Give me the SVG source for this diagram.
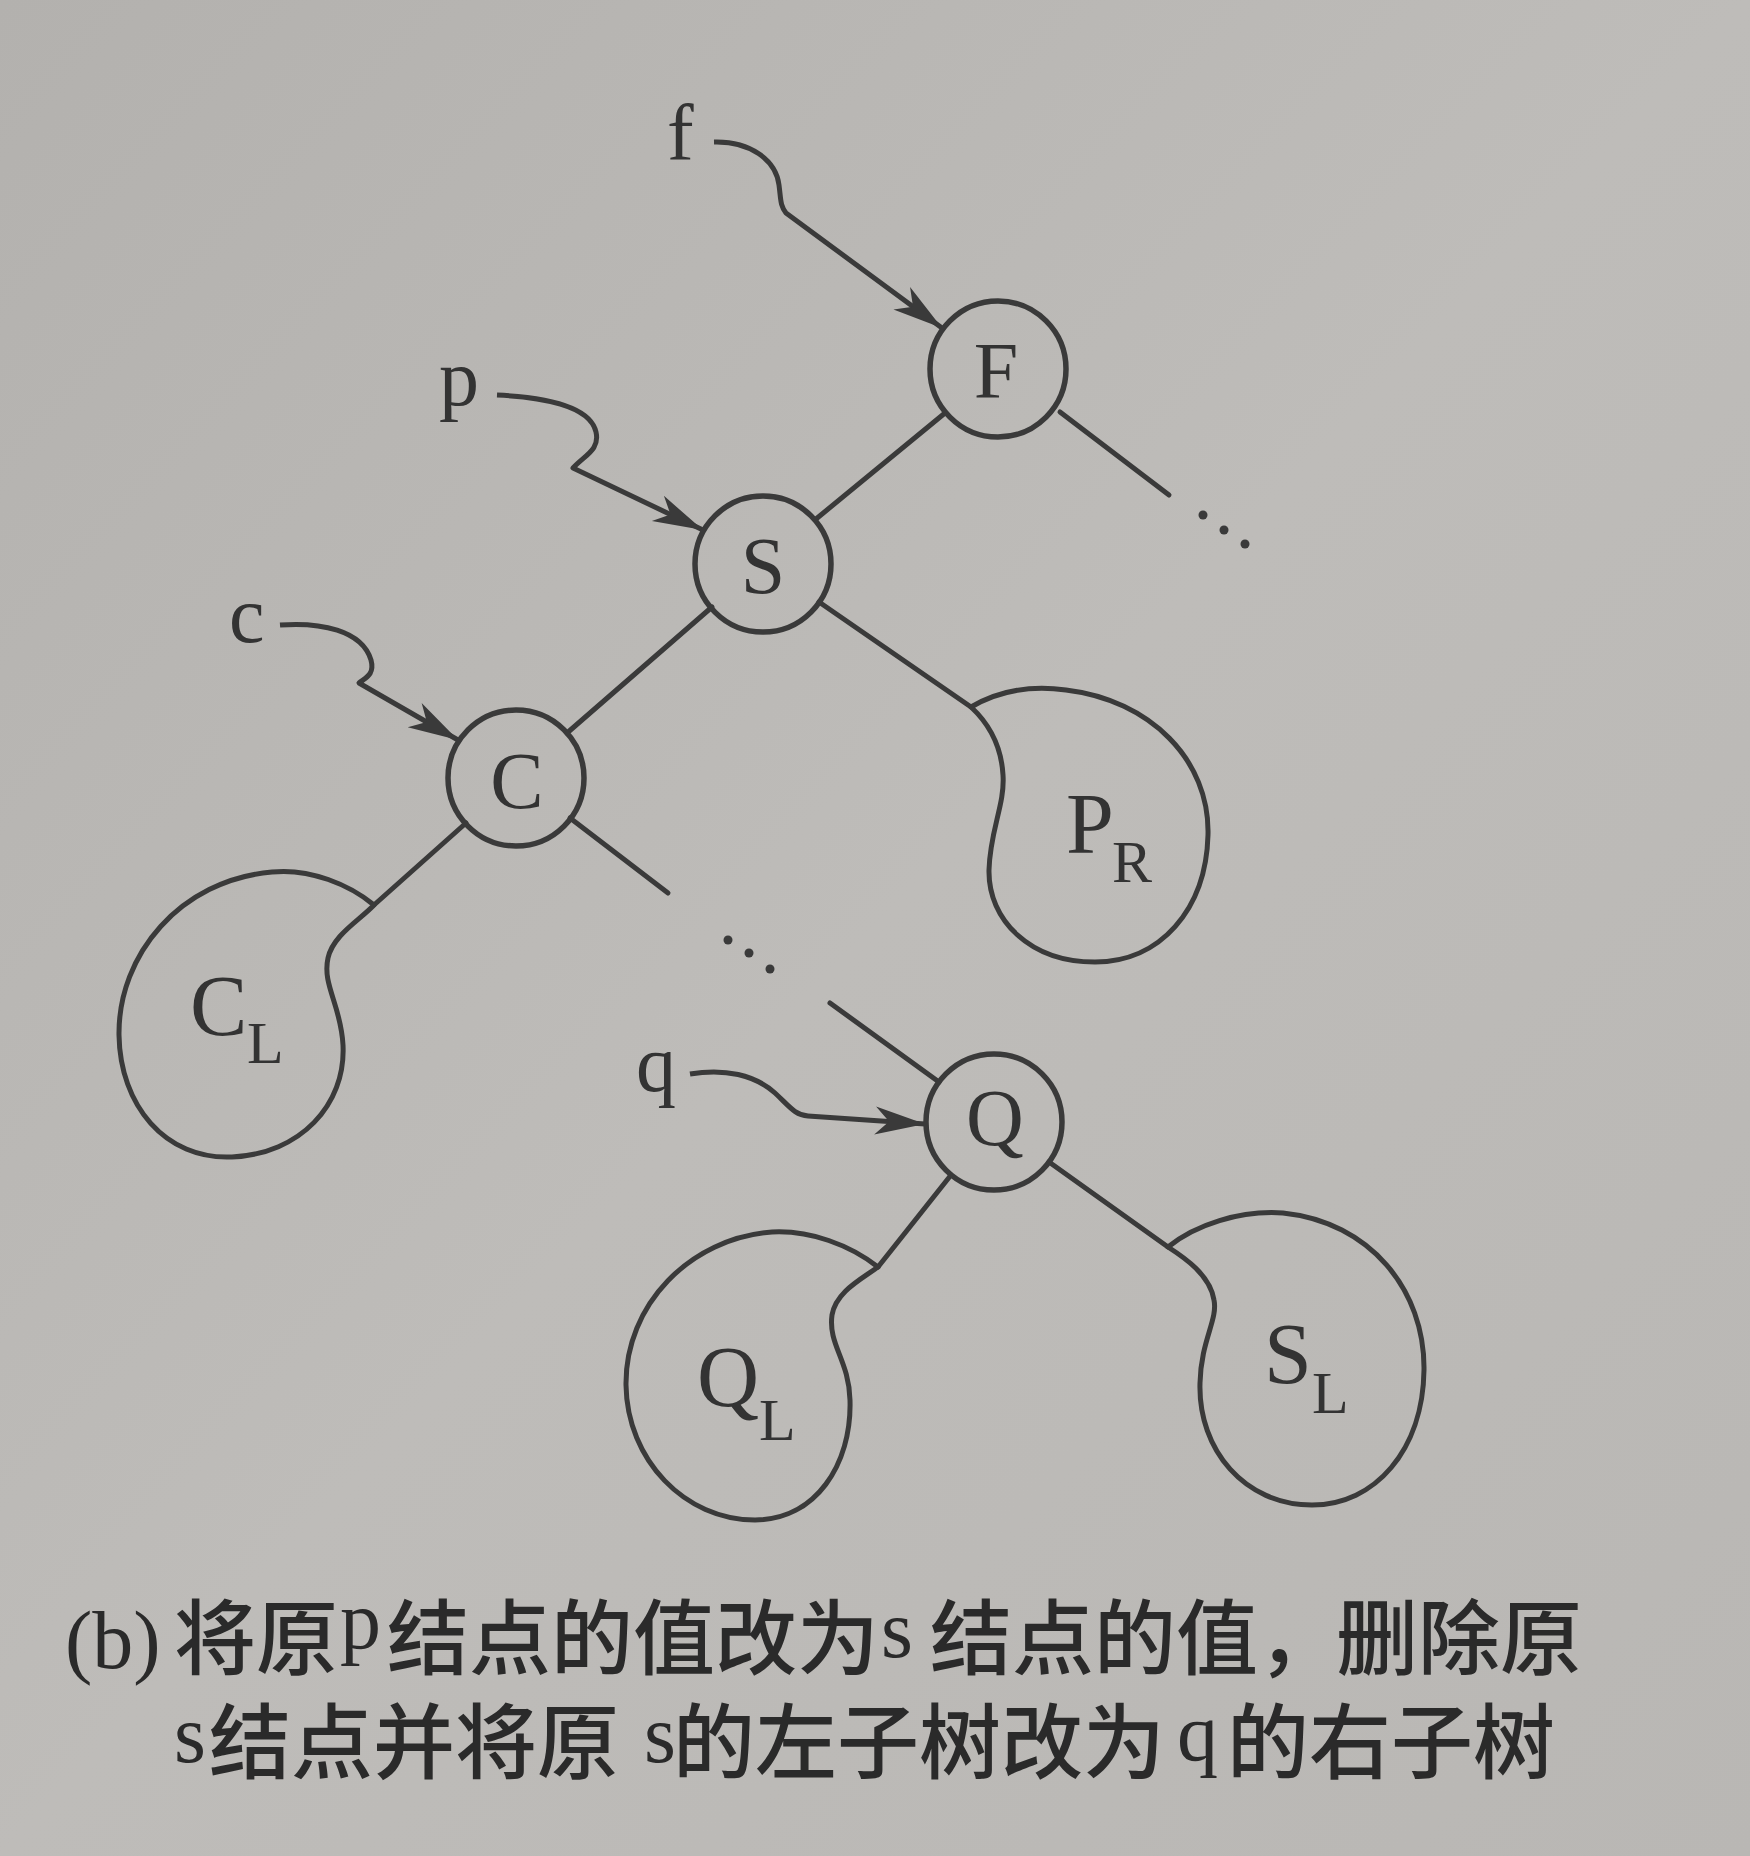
<svg xmlns="http://www.w3.org/2000/svg" width="1750" height="1856" viewBox="0 0 1750 1856">
<defs>
<linearGradient id="bg" x1="0" y1="0" x2="1" y2="1">
<stop offset="0" stop-color="#b3b1ae"/>
<stop offset="0.5" stop-color="#bebcb9"/>
<stop offset="1" stop-color="#b9b7b4"/>
</linearGradient>
<marker id="arr" viewBox="-52 -16 54 32" refX="0" refY="0" markerWidth="54" markerHeight="32" markerUnits="userSpaceOnUse" orient="auto">
<path d="M0,0 L-50,-14 L-36,0 L-50,14 Z" fill="#3a3a3a"/>
</marker>
<style>
.ln{fill:none;stroke:#3a3a3a;stroke-width:5;stroke-linecap:round;stroke-linejoin:round}
.ptr{fill:none;stroke:#3a3a3a;stroke-width:5;stroke-linejoin:round}
.nd{fill:none;stroke:#3a3a3a;stroke-width:5.5}
.blob{fill:none;stroke:#3a3a3a;stroke-width:5;stroke-linejoin:round}
.dot{fill:#3a3a3a}
.lb{font-family:"Liberation Serif","Times New Roman",serif;fill:#333;font-size:80px}
.big{font-family:"Liberation Serif","Times New Roman",serif;fill:#333;font-size:86px}
.sub{font-size:60px}
.cap{font-family:"Noto Sans CJK SC","Noto Sans",sans-serif;fill:#2a2a2a;font-size:82px;font-weight:500}
.capl{font-family:"Liberation Serif","Times New Roman",serif;fill:#2a2a2a;font-size:82px}
</style>
</defs>
<rect x="0" y="0" width="1750" height="1856" fill="url(#bg)"/>

<g id="connectors">
<line class="ln" x1="945" y1="413" x2="816" y2="519"/>
<line class="ln" x1="1060" y1="412" x2="1169" y2="495"/>
<circle class="dot" cx="1203" cy="515" r="4.5"/>
<circle class="dot" cx="1224" cy="530" r="4.5"/>
<circle class="dot" cx="1245" cy="544" r="4.5"/>
<line class="ln" x1="712" y1="607" x2="567" y2="733"/>
<line class="ln" x1="819" y1="602" x2="971" y2="707"/>
<line class="ln" x1="466" y1="823" x2="374" y2="905"/>
<line class="ln" x1="570" y1="818" x2="668" y2="893"/>
<circle class="dot" cx="728" cy="940" r="4.5"/>
<circle class="dot" cx="749" cy="953" r="4.5"/>
<circle class="dot" cx="770" cy="969" r="4.5"/>
<line class="ln" x1="830" y1="1003" x2="939" y2="1082"/>
<line class="ln" x1="951" y1="1175" x2="878" y2="1267"/>
<line class="ln" x1="1049" y1="1162" x2="1168" y2="1247"/>
<path class="ptr" d="M714,142 C750,141 776,160 779,185 C781,200 780,205 786,213 L942,328" marker-end="url(#arr)"/>
<path class="ptr" d="M497,395 C540,397 590,405 596,432 C600,450 585,455 573,468 L703,530" marker-end="url(#arr)"/>
<path class="ptr" d="M280,625 C320,622 362,630 371,660 C375,675 365,678 359,683 L458,740" marker-end="url(#arr)"/>
<path class="ptr" d="M690,1074 C725,1068 755,1075 775,1093 C790,1107 795,1115 808,1116 L925,1124" marker-end="url(#arr)"/>
</g>

<g id="label-f"><text class="lb" x="667" y="160">f</text></g>
<g id="label-p"><text class="lb" x="439" y="405">p</text></g>
<g id="label-c"><text class="lb" x="229" y="642">c</text></g>
<g id="label-q"><text class="lb" x="636" y="1091">q</text></g>

<g id="node-F">
<circle class="nd" cx="998" cy="369" r="68"/>
<text class="lb" x="996" y="398" text-anchor="middle">F</text>
</g>
<g id="node-S">
<circle class="nd" cx="763" cy="564" r="68"/>
<text class="lb" x="763" y="593" text-anchor="middle">S</text>
</g>
<g id="node-C">
<circle class="nd" cx="516" cy="778" r="68"/>
<text class="lb" x="517" y="808" text-anchor="middle">C</text>
</g>
<g id="node-Q">
<circle class="nd" cx="994" cy="1122" r="68"/>
<text class="lb" x="995" y="1145" text-anchor="middle">Q</text>
</g>

<g id="subtree-CL">
<path class="blob" d="M374,905 C350,885 310,868 272,872 C180,880 118,955 119,1035 C120,1105 165,1160 232,1157 C300,1154 346,1105 343,1045 C341,1005 322,985 328,958 C333,935 360,920 374,905 Z"/>
<text class="big" x="190" y="1035">C</text>
<text class="big sub" x="247" y="1063">L</text>
</g>
<g id="subtree-PR">
<path class="blob" d="M971,707 C1000,690 1030,685 1066,690 C1150,700 1210,760 1208,835 C1206,910 1160,962 1095,962 C1030,962 988,920 989,870 C990,830 1005,805 1003,775 C1001,740 985,720 971,707 Z"/>
<text class="big" x="1066" y="853">P</text>
<text class="big sub" x="1112" y="882">R</text>
</g>
<g id="subtree-QL">
<path class="blob" d="M878,1267 C850,1245 810,1230 772,1232 C690,1238 625,1305 626,1385 C627,1460 685,1520 755,1520 C815,1520 852,1465 850,1400 C849,1360 828,1345 832,1315 C836,1292 860,1280 878,1267 Z"/>
<text class="big" x="697" y="1406">Q</text>
<text class="big sub" x="759" y="1440">L</text>
</g>
<g id="subtree-SL">
<path class="blob" d="M1168,1247 C1195,1225 1240,1210 1283,1213 C1370,1222 1425,1290 1424,1370 C1423,1450 1375,1505 1312,1505 C1245,1505 1198,1450 1200,1383 C1201,1340 1218,1320 1214,1300 C1210,1275 1185,1258 1168,1247 Z"/>
<text class="big" x="1264" y="1383">S</text>
<text class="big sub" x="1312" y="1413">L</text>
</g>

<g id="caption">
<text class="capl" x="65" y="1668">(b)</text>
<text class="cap" x="174" y="1668">将原</text>
<text class="capl" x="340" y="1648">p</text>
<text class="cap" x="387" y="1668">结点的值改为</text>
<text class="capl" x="881" y="1657">s</text>
<text class="cap" x="930" y="1668">结点的值，</text>
<text class="cap" x="1336" y="1668">删除原</text>
<text class="capl" x="174" y="1762">s</text>
<text class="cap" x="209" y="1772">结点并将原</text>
<text class="capl" x="644" y="1762">s</text>
<text class="cap" x="673" y="1772">的左子树改为</text>
<text class="capl" x="1177" y="1760">q</text>
<text class="cap" x="1227" y="1772">的右子树</text>
</g>
</svg>
